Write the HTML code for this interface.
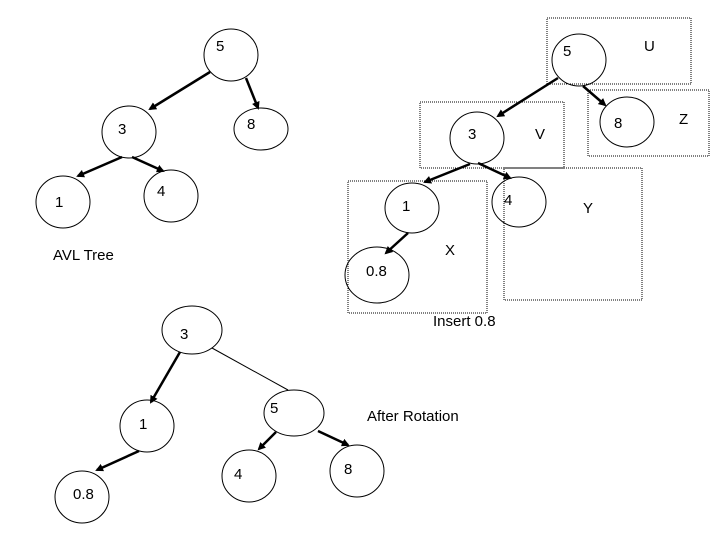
<!DOCTYPE html>
<html><head><meta charset="utf-8"><style>html,body{margin:0;padding:0;background:#fff}svg{display:block}text{font-family:"Liberation Sans",sans-serif;font-size:15px;fill:#000}</style></head><body>
<svg width="720" height="540" viewBox="0 0 720 540">
<defs><marker id="a" markerWidth="8" markerHeight="8" refX="6" refY="4" orient="auto" markerUnits="userSpaceOnUse"><path d="M0,0 L8,4 L0,8 z" fill="#000"/></marker></defs>
<g fill="none" stroke="#000" stroke-width="1">
<ellipse cx="231" cy="55" rx="27" ry="26"/>
<ellipse cx="129" cy="132" rx="27" ry="26"/>
<ellipse cx="261" cy="129" rx="27" ry="21"/>
<ellipse cx="63" cy="202" rx="27" ry="26"/>
<ellipse cx="171" cy="196" rx="27" ry="26"/>
<ellipse cx="579" cy="60" rx="27" ry="26"/>
<ellipse cx="477" cy="138" rx="27" ry="26"/>
<ellipse cx="627" cy="122" rx="27" ry="25"/>
<ellipse cx="412" cy="208" rx="27" ry="25"/>
<ellipse cx="519" cy="202" rx="27" ry="25"/>
<ellipse cx="377" cy="275" rx="32" ry="28"/>
<ellipse cx="192" cy="330" rx="30" ry="24"/>
<ellipse cx="147" cy="426" rx="27" ry="26"/>
<ellipse cx="294" cy="413" rx="30" ry="23"/>
<ellipse cx="82" cy="497" rx="27" ry="26"/>
<ellipse cx="249" cy="476" rx="27" ry="26"/>
<ellipse cx="357" cy="471" rx="27" ry="26"/>
</g>
<g fill="none" stroke="#000" stroke-width="1" stroke-dasharray="1,1">
<rect x="547" y="18" width="144" height="66"/>
<rect x="420" y="102" width="144" height="66"/>
<rect x="588" y="90" width="121" height="66"/>
<rect x="348" y="181" width="139" height="132"/>
<rect x="504" y="168" width="138" height="132"/>
</g>
<g stroke="#000" stroke-width="2.5" marker-end="url(#a)">
<line x1="210" y1="72" x2="150" y2="109"/>
<line x1="246" y1="78" x2="258" y2="108"/>
<line x1="122" y1="157" x2="78" y2="176"/>
<line x1="132" y1="157" x2="163" y2="171"/>
<line x1="558" y1="78" x2="498" y2="116"/>
<line x1="583" y1="86" x2="605" y2="105"/>
<line x1="470" y1="164" x2="425" y2="182"/>
<line x1="478" y1="163" x2="510" y2="178"/>
<line x1="408" y1="233" x2="386" y2="253"/>
<line x1="180" y1="352" x2="151" y2="402"/>
<line x1="139" y1="451" x2="97" y2="470"/>
<line x1="276" y1="432" x2="259" y2="449"/>
<line x1="318" y1="431" x2="348" y2="445"/>
</g>
<line x1="212" y1="348" x2="288" y2="390" stroke="#000" stroke-width="1"/>
<text x="216" y="51">5</text>
<text x="118" y="134">3</text>
<text x="247" y="129">8</text>
<text x="55" y="207">1</text>
<text x="157" y="196">4</text>
<text x="563" y="56">5</text>
<text x="468" y="139">3</text>
<text x="614" y="128">8</text>
<text x="402" y="211">1</text>
<text x="504" y="205">4</text>
<text x="366" y="276">0.8</text>
<text x="180" y="339">3</text>
<text x="139" y="429">1</text>
<text x="270" y="413">5</text>
<text x="73" y="499">0.8</text>
<text x="234" y="479">4</text>
<text x="344" y="474">8</text>
<text x="644" y="51">U</text>
<text x="535" y="139">V</text>
<text x="679" y="124">Z</text>
<text x="583" y="213">Y</text>
<text x="445" y="255">X</text>
<text x="433" y="326">Insert 0.8</text>
<text x="367" y="421">After Rotation</text>
<text x="53" y="260">AVL Tree</text>
</svg>
</body></html>
